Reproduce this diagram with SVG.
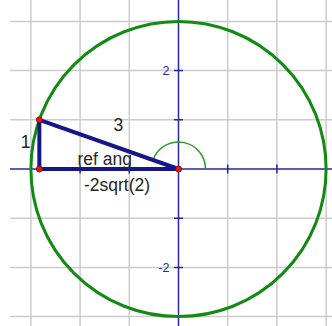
<svg xmlns="http://www.w3.org/2000/svg" width="332" height="326" viewBox="0 0 332 326">
<style>
.grid{stroke:#cccccc;stroke-width:1.5;fill:none}
.axis{stroke:#2828a0;stroke-width:1.5;fill:none}
.tri{stroke:#16168a;stroke-width:4;fill:none;stroke-linejoin:round;stroke-linecap:round}
.circ{stroke:#138a13;stroke-width:3;fill:none}
.arc{stroke:#2a9a2a;stroke-width:1.5;fill:none}
.pt{fill:#ee1111;stroke:#601010;stroke-width:0.8}
.lbl{font-family:"Liberation Sans",Arial,sans-serif;font-size:17.5px;fill:#262626}
.ax{font-family:"Liberation Sans",Arial,sans-serif;font-size:12.5px;fill:#2828a0}
</style>
<rect width="332" height="326" fill="#ffffff"/>
<g id="grid">
<path class="grid" d="M30.9 0V326M80.1 0V326M129.3 0V326M227.7 0V326M276.9 0V326M326.1 0V326"/>
<path class="grid" d="M10 21.4H332M10 70.6H332M10 119.8H332M10 218.2H332M10 267.4H332M10 316.6H332"/>
</g>
<g id="axes">
<path class="axis" d="M10 169H332M178.5 0V326"/>
<path class="axis" d="M80.1 164.5V173.5M129.3 164.5V173.5M227.7 164.5V173.5M276.9 164.5V173.5"/>
<path class="axis" d="M174 70.6H183M174 119.8H183M174 218.2H183M174 267.4H183"/>
<text class="ax" x="169.5" y="75" text-anchor="end">2</text>
<text class="ax" x="169.5" y="272" text-anchor="end">-2</text>
</g>
<g id="circle">
<circle class="circ" cx="178.5" cy="169" r="147.6"/>
</g>
<g id="connectors">
<path class="arc" d="M205.5 169A27 27 0 0 0 153.04 160"/>
<path class="tri" d="M178.5 169L39.35 119.8L39.35 169Z"/>
</g>
<g id="points">
<circle class="pt" cx="39.35" cy="119.8" r="3"/>
<circle class="pt" cx="39.35" cy="169" r="3"/>
<circle class="pt" cx="178.5" cy="169" r="3"/>
</g>
<g id="labels">
<text class="lbl" x="118.3" y="130.7" text-anchor="middle">3</text>
<text class="lbl" x="25.5" y="147.5" text-anchor="middle">1</text>
<text class="lbl" x="77.5" y="164.5">ref ang</text>
<text class="lbl" x="84" y="191">-2sqrt(2)</text>
</g>
</svg>
